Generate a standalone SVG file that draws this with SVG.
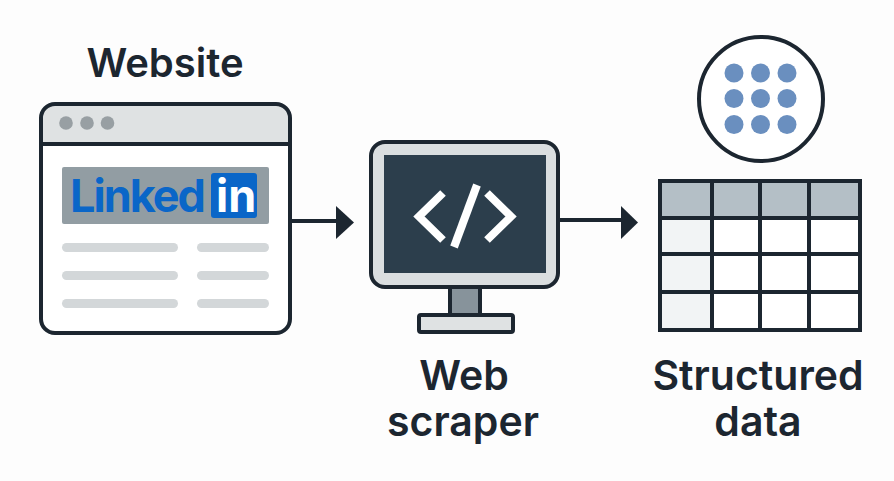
<svg xmlns="http://www.w3.org/2000/svg" width="894" height="481" viewBox="0 0 894 481">
<style>
.ln{fill:none;stroke:#1c2630;stroke-width:4}
.lbl{font-family:"Inter","Liberation Sans",sans-serif;font-weight:600;font-size:41px;fill:#1c2630;text-anchor:middle}
.logo{font-family:"Inter","Liberation Sans",sans-serif;font-weight:700;font-size:45px}
.dot{fill:#6a8fbf}
.bar{fill:#d3d7d9}
</style>
<rect width="894" height="481" fill="#fdfdfd"/>
<g id="website">
<text class="lbl" x="165" y="77" style="font-size:40px">Website</text>
<rect x="41" y="104" width="249" height="229" rx="14" fill="#fff"/>
<path d="M41 144V118a14 14 0 0 1 14-14H276a14 14 0 0 1 14 14V144Z" fill="#dfe2e3"/>
<rect class="ln" x="41" y="104" width="249" height="229" rx="14"/>
<path class="ln" d="M41 144H290"/>
<circle cx="66" cy="123" r="6.800" fill="#989fa3"/><circle cx="87" cy="123" r="6.800" fill="#989fa3"/><circle cx="107.500" cy="123" r="6.800" fill="#989fa3"/>
<rect x="62" y="167" width="207" height="57" rx="2" fill="#929da3"/>
<text class="logo" x="70" y="212" fill="#0a66c8" style="letter-spacing:-2px">Linked</text>
<rect x="211" y="173" width="46" height="45" rx="3" fill="#0a66c8"/>
<text class="logo" x="216" y="212" fill="#fff">in</text>
<rect class="bar" x="62" y="243" width="116" height="9" rx="4.500"/><rect class="bar" x="197" y="243" width="72" height="9" rx="4.500"/>
<rect class="bar" x="62" y="271" width="116" height="9" rx="4.500"/><rect class="bar" x="197" y="271" width="72" height="9" rx="4.500"/>
<rect class="bar" x="62" y="299" width="116" height="9" rx="4.500"/><rect class="bar" x="197" y="299" width="72" height="9" rx="4.500"/>
</g>
<g id="scraper">
<rect x="450" y="289" width="30" height="26" fill="#87939b"/>
<path class="ln" d="M450 289V315M480 289V315"/>
<rect class="ln" x="419" y="315" width="94" height="17" rx="2" style="fill:#dfe2e3"/>
<rect class="ln" x="371" y="142" width="187" height="145" rx="14" style="fill:#dadee0"/>
<rect x="384" y="155" width="162" height="118" fill="#2c3e4c"/>
<g fill="none" stroke="#fff" stroke-width="8">
<path d="M443 193L419 216.500L443 240"/>
<path d="M477 185L454 247"/>
<path d="M487 193L511 216.500L487 240"/>
</g>
<text class="lbl" x="464" y="390">Web</text>
<text class="lbl" x="463" y="436">scraper</text>
</g>
<g id="structured-data">
<circle cx="761" cy="99" r="62" fill="#fff" stroke="#1c2630" stroke-width="4"/>
<circle class="dot" cx="734" cy="73" r="9.500"/><circle class="dot" cx="760.500" cy="73" r="9.500"/><circle class="dot" cx="787" cy="73" r="9.500"/>
<circle class="dot" cx="734" cy="98.500" r="9.500"/><circle class="dot" cx="760.500" cy="98.500" r="9.500"/><circle class="dot" cx="787" cy="98.500" r="9.500"/>
<circle class="dot" cx="734" cy="124.500" r="9.500"/><circle class="dot" cx="760.500" cy="124.500" r="9.500"/><circle class="dot" cx="787" cy="124.500" r="9.500"/>
<rect x="660" y="181" width="200" height="149" fill="#fff"/>
<rect x="660" y="181" width="200" height="37" fill="#b4bfc6"/>
<rect x="660" y="218" width="52" height="112" fill="#f2f4f5"/>
<path class="ln" d="M660 181H860V330H660ZM712 181V330M760 181V330M809 181V330M660 218H860M660 254H860M660 292H860"/>
<text class="lbl" x="758" y="390">Structured</text>
<text class="lbl" x="758" y="436">data</text>
</g>
<g id="connectors">
<path d="M292 221H338" stroke="#1c2630" stroke-width="4" fill="none"/>
<path d="M336 206L354 222.500L336 239Z" fill="#1c2630"/>
<path d="M560 220H622" stroke="#1c2630" stroke-width="4" fill="none"/>
<path d="M621 206L638 222.500L621 239Z" fill="#1c2630"/>
</g>
</svg>
